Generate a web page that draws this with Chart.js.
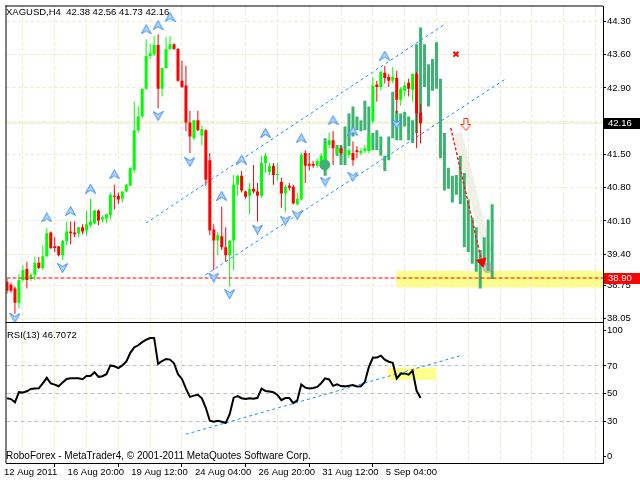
<!DOCTYPE html>
<html><head><meta charset="utf-8">
<script src="https://cdn.jsdelivr.net/npm/chart.js@4.4.0/dist/chart.umd.min.js"></script>
<style>html,body{margin:0;padding:0;background:#fff;}canvas{display:block;}</style>
</head><body>
<canvas id="c" width="640" height="480"></canvas>
<script>
const FONT = '"Liberation Sans", Arial, sans-serif';
const FS = 9.5;

// ---------- data ----------
const symbol = 'XAGUSD,H4';
const xTickLabels = ['12 Aug 2011','16 Aug 20:00','19 Aug 12:00','24 Aug 04:00','26 Aug 20:00','31 Aug 12:00','5 Sep 04:00'];
const xTickBars = [0,16,32,48,64,80,96];
const yTicks = [38.05,38.75,39.40,40.10,40.80,41.50,42.20,42.90,43.60,44.30];

const open = [38.82,38.76,38.68,38.38,38.86,39.09,38.88,38.97,39.22,39.11,
39.36,39.86,39.57,39.57,39.38,39.68,39.88,39.86,39.84,39.97,
39.90,40.01,40.05,40.32,40.13,40.15,40.22,40.63,40.63,40.57,
40.72,40.84,41.18,42.01,42.30,42.88,43.57,43.61,43.80,42.88,
43.32,43.72,43.82,43.72,43.05,42.95,42.17,41.84,42.22,41.90,
42.01,41.38,39.92,39.69,39.78,39.55,39.38,39.69,40.86,41.05,
40.72,40.63,40.78,40.72,40.63,41.32,41.13,41.26,41.07,40.92,
40.68,40.84,40.82,40.45,40.55,41.53,41.30,41.30,41.26,41.32,
41.30,41.70,41.80,41.53,41.63,41.53,41.49,41.53,41.59,41.53,
41.57,41.57,42.20,42.97,42.92,43.22,43.13,43.05,43.11,42.65,
42.84,43.01,42.86,43.20,42.38];
const high = [38.88,38.80,38.72,38.99,39.17,39.24,39.01,39.34,39.34,39.59,
39.95,39.88,39.76,39.57,39.70,40.09,40.09,40.09,39.97,40.03,
40.32,40.57,40.34,40.34,40.22,40.26,40.70,40.86,40.70,40.72,
40.88,41.22,42.61,42.51,42.88,43.92,43.82,43.99,44.03,43.32,
43.97,43.99,43.84,43.74,43.47,43.36,42.42,42.22,42.42,42.11,
42.03,41.53,40.03,39.88,40.40,39.97,39.69,41.07,41.07,41.15,
40.74,40.90,41.28,40.90,41.47,41.53,41.32,41.32,41.32,41.01,
40.86,40.90,40.86,40.70,41.53,41.59,41.53,41.36,41.42,41.53,
41.74,41.95,41.99,41.70,41.67,41.61,41.63,41.78,41.67,41.63,
41.70,41.95,43.13,43.05,43.26,43.36,43.20,43.34,43.26,42.92,
43.03,43.09,43.20,43.24,42.56];
const low = [38.57,38.59,38.15,38.26,38.82,38.68,38.84,38.86,39.09,39.07,
39.34,39.51,39.45,39.36,39.28,39.59,39.61,39.76,39.76,39.82,
39.80,39.97,40.03,40.01,40.07,40.05,40.13,40.34,40.45,40.49,
40.70,40.84,41.11,41.95,42.26,42.86,43.51,43.57,42.47,42.72,
43.30,43.70,43.70,43.03,42.90,41.99,41.53,41.80,41.99,41.70,
40.84,39.80,39.07,39.38,39.49,39.24,38.72,39.07,40.63,40.70,
40.57,40.24,40.68,40.09,40.59,41.11,41.07,40.86,40.95,40.38,
40.28,40.74,40.45,40.42,40.53,40.90,41.17,41.22,41.22,41.28,
41.22,41.63,41.28,41.47,41.49,41.49,41.42,41.26,41.42,41.49,
41.53,41.53,42.15,42.61,42.84,42.99,42.92,42.99,42.36,42.53,
42.72,42.72,42.61,41.63,41.73];
const close = [38.63,38.63,38.38,38.86,39.07,38.86,38.97,39.22,39.11,39.36,
39.84,39.53,39.53,39.38,39.68,39.88,39.84,39.82,39.97,39.88,
40.03,40.09,40.32,40.11,40.18,40.24,40.65,40.61,40.55,40.72,
40.86,41.22,42.01,42.30,42.88,43.57,43.63,43.80,42.88,43.32,
43.72,43.82,43.72,43.05,42.92,42.17,41.88,42.22,42.01,42.03,
40.97,39.90,39.69,39.80,39.55,39.38,39.69,40.86,41.05,40.74,
40.61,40.78,40.72,40.63,41.32,41.47,41.26,41.07,41.09,40.68,
40.82,40.80,40.47,40.57,41.49,41.26,41.26,41.26,41.36,41.47,
41.70,41.80,41.63,41.63,41.53,41.55,41.59,41.38,41.55,41.57,
41.63,41.90,42.95,42.92,43.24,43.11,43.05,43.13,42.65,42.88,
42.95,42.88,43.20,42.36,42.16];

const rsi = [46.6,46,43.6,51,50.8,51.6,53.3,53.7,53.8,57.4,
61.4,57.4,56.5,55.3,58.1,60.6,61.1,61,61,60.4,
62.7,62.8,65.5,62.1,62.6,64,70.4,69.8,68.5,70.4,
73.2,79.5,83.5,85,87.3,89,90.3,90.3,71.5,73.6,
75.1,74.6,72,64,60.6,53.5,47.6,48.5,49.1,46.5,
39.7,30.3,29.6,30.2,29.5,28.6,35,47,48.1,46.6,
46,46.6,46.3,46.9,53.5,51.9,51.5,51,49,45.2,
46.7,46.7,43,45,56.5,54.3,53.7,54,54.8,57.5,
61,60.2,55.6,56.7,55.4,55.2,55.6,56.1,55.1,55.3,
58.5,69.3,75.9,76.1,77.5,74.5,73.1,72.3,60.9,64.3,
64.6,63.7,66.5,52,46.7072];

// projected (overlay) bars
const ovBars = [80,83,84,85,86,87,88,89,90,91,92,93,94,95,96,97,98,99,100,101,102,103,104,105,106,107,108,109,110,111,112,113,114,115,116,117,118,119,120,121,122];
const ovHigh = [41.84,41.70,41.70,42.09,42.36,42.51,42.30,42.22,42.63,42.51,41.95,42.01,41.88,41.47,41.88,42.82,42.42,42.36,42.40,42.30,42.22,43.82,44.17,43.82,43.40,43.51,43.86,43.09,41.95,41.22,41.05,41.07,41.47,41.11,40.55,40.17,39.97,39.49,39.76,40.13,40.45];
const ovLow  = [41.05,41.47,41.28,41.28,41.67,41.88,42.01,41.99,42.01,41.59,41.59,41.59,41.47,41.15,41.38,41.84,41.80,41.80,42.09,41.80,41.74,41.95,42.15,42.92,42.51,42.84,42.88,41.42,40.74,40.78,40.49,40.65,40.45,39.55,39.45,39.20,39.03,38.68,39.17,39.05,38.88];

// fractals
const fracUpBars = [10,16,21,27,35,38,41,54,59,65,74,82,87,95];
const fracUpVals = [40.175,40.31,40.78,41.08,44.13,44.22,44.39,40.63,41.39,41.95,41.84,42.22,41.99,43.58];
const fracDnBars = [2,14,38,46,52,56,63,70,73,80,87,98];
const fracDnVals = [38.06,39.11,42.31,41.34,38.91,38.56,39.92,40.11,40.22,40.93,41.03,42.14];

// drawn objects
const chanUpBars = [34.95,110.4], chanUpVals = [40.056,44.258];
const chanLoBars = [49.9,125.4],  chanLoVals = [38.966,43.09];
const bidPrice = 42.16;
const supportPrice = 38.90;
const zoneBars = [97.9,149.875], zonePrices = [38.70,39.05];
const rsiZoneBars = [95.8,107.9], rsiZoneVals = [59.95,68.8];
const rsiTrendBars = [44.95,114.55], rsiTrendVals = [20.45,77.9];
const arrowBars = [111.6,119.4], arrowVals = [42.06,39.24];
const shadowBars = [113.4,120.9], shadowVals = [41.95,39.45];
const crossMark = {bar:112.9, val:43.61};
const downMark = {bar:115.4, val:42.13};
const ghostBars = [79.9,120.9], ghostVals = [41.28,39.11];

const priceMin = 37.9667, priceMax = 44.6125;
const rsiMin = -0.37, rsiMax = 101.6;
const rsiTickPos = [4.15,30,50,70,95.85];
const rsiTickText = ['0','30','50','70','100'];
const rsiLevels = [30,50,70];
const xMin = -0.125, xMax = 149.875;
const gridBars = Array.from({length:19},(_,k)=>k*8);

// ---------- glyphs ----------
function fractalGlyph(){
  const c=document.createElement('canvas');c.width=11;c.height=10;
  const g=c.getContext('2d');
  g.beginPath();g.moveTo(5.5,0.5);g.lineTo(10.5,9.5);g.lineTo(5.5,6.5);g.lineTo(0.5,9.5);g.closePath();
  g.fillStyle='#B4D6FA';g.fill();g.strokeStyle='#3A8DEB';g.lineWidth=1;g.stroke();
  return c;
}
function hollowArrow(){
  const c=document.createElement('canvas');c.width=11;c.height=13;
  const g=c.getContext('2d');
  g.beginPath();g.moveTo(3.5,0.5);g.lineTo(7.5,0.5);g.lineTo(7.5,6.5);g.lineTo(10.5,6.5);
  g.lineTo(5.5,12.5);g.lineTo(0.5,6.5);g.lineTo(3.5,6.5);g.closePath();
  g.fillStyle='#fff';g.fill();g.strokeStyle='#FF3010';g.lineWidth=1;g.stroke();
  return c;
}
const fracImg = fractalGlyph();
const arrImg = hollowArrow();

// ---------- datasets ----------
const bars = open.map((_,i)=>i);
const up = i => close[i] >= open[i];
const BULL='#00FF00', BEAR='#FF0000';
const pt = (xs,ys)=>xs.map((v,k)=>({x:v,y:ys[k]}));

const datasets = [
  {type:'line',order:100,yAxisID:'y',data:pt([xMin,xMax],[bidPrice,bidPrice]),borderColor:'#E8E8B8',borderWidth:1,pointRadius:0},
  {type:'line',order:97,yAxisID:'y',data:pt(shadowBars,shadowVals),borderColor:'rgba(228,225,205,0.5)',borderWidth:8,pointRadius:0},
  {type:'bar',order:95,yAxisID:'y',grouped:false,barThickness:3,inflateAmount:0,minBarLength:1,
   data:ovBars.map((b,k)=>({x:b,y:[ovLow[k],ovHigh[k]]})),backgroundColor:'#3CB371'},
  {type:'line',order:90,yAxisID:'y',data:pt(chanUpBars,chanUpVals),borderColor:'#1E90FF',borderWidth:1,borderDash:[3,3],pointRadius:0},
  {type:'line',order:90,yAxisID:'y',data:pt(chanLoBars,chanLoVals),borderColor:'#1E90FF',borderWidth:1,borderDash:[3,3],pointRadius:0},
  {type:'bar',order:80,yAxisID:'y',grouped:false,barThickness:1,inflateAmount:0,minBarLength:1,
   data:bars.map(i=>({x:i,y:[low[i],high[i]]})),backgroundColor:bars.map(i=>up(i)?BULL:BEAR)},
  {type:'bar',order:79,yAxisID:'y',grouped:false,barThickness:3,inflateAmount:0,minBarLength:1,
   data:bars.map(i=>({x:i,y:[open[i],close[i]]})),backgroundColor:bars.map(i=>up(i)?BULL:BEAR)},
  {type:'line',order:70,yAxisID:'y',data:pt([xMin,xMax],[supportPrice,supportPrice]),borderColor:'#FF0000',borderWidth:1,borderDash:[4,2],pointRadius:0},
  {type:'scatter',order:60,yAxisID:'y',data:pt(fracUpBars,fracUpVals),pointStyle:fracImg,pointRadius:5},
  {type:'scatter',order:60,yAxisID:'y',data:pt(fracDnBars,fracDnVals),pointStyle:fracImg,pointRadius:5,pointRotation:180},
  {type:'scatter',order:58,yAxisID:'y',data:pt([ghostBars[0]],[ghostVals[0]]),pointStyle:'circle',pointRadius:5,backgroundColor:'#3CB371',borderColor:'#3CB371'},
  {type:'scatter',order:58,yAxisID:'y',data:pt([ghostBars[1]],[ghostVals[1]]),pointStyle:'circle',pointRadius:5,backgroundColor:'rgba(130,160,140,0.55)',borderColor:'rgba(130,160,140,0.3)'},
  {type:'line',order:50,yAxisID:'y',data:pt(arrowBars,arrowVals),borderColor:'#FF1A1A',borderWidth:1.5,borderDash:[3,2],pointRadius:0},
  {type:'scatter',order:49,yAxisID:'y',data:pt([arrowBars[1]],[arrowVals[1]]),pointStyle:'triangle',pointRadius:5.5,pointRotation:167,backgroundColor:'#FF0000',borderColor:'#FF0000'},
  {type:'scatter',order:40,yAxisID:'y',data:[{x:crossMark.bar,y:crossMark.val}],pointStyle:'crossRot',pointRadius:3.5,borderWidth:2,borderColor:'#FF0000'},
  {type:'scatter',order:40,yAxisID:'y',data:[{x:downMark.bar,y:downMark.val}],pointStyle:arrImg,pointRadius:5},
  {type:'line',order:35,yAxisID:'y2',data:pt(rsiTrendBars,rsiTrendVals),borderColor:'#1E90FF',borderWidth:1,borderDash:[3,3],pointRadius:0},
  {type:'line',order:30,yAxisID:'y2',data:rsi.map((v,i)=>({x:i,y:v})),borderColor:'#000',borderWidth:2,pointRadius:0,tension:0}
];

// ---------- plugin ----------
const mt = {
  id:'mt',
  beforeDraw(chart){
    const {ctx,chartArea:a,scales:{x,y,y2}} = chart;
    ctx.save();
    ctx.fillStyle='#fff';ctx.fillRect(0,0,chart.width,chart.height);
    ctx.fillStyle='#FFFF8C';
    let x0=x.getPixelForValue(zoneBars[0]), x1=Math.min(a.right,x.getPixelForValue(zoneBars[1]));
    let y0=y.getPixelForValue(zonePrices[1]), y1=y.getPixelForValue(zonePrices[0]);
    ctx.fillRect(x0,y0,x1-x0,y1-y0);
    x0=x.getPixelForValue(rsiZoneBars[0]); x1=x.getPixelForValue(rsiZoneBars[1]);
    y0=y2.getPixelForValue(rsiZoneVals[1]); y1=y2.getPixelForValue(rsiZoneVals[0]);
    ctx.fillRect(x0,y0,x1-x0,y1-y0);
    ctx.restore();
  },
  afterDraw(chart){
    const {ctx,chartArea:a,scales:{y,y2}} = chart;
    ctx.save();
    ctx.fillStyle='#000';
    ctx.fillRect(a.left-1,a.top-1,a.right-a.left+1,1);
    ctx.fillRect(a.left-1,a.top-1,1,a.bottom-a.top+1);
    ctx.fillRect(a.left-1,Math.round(y.bottom),a.right-a.left+1,1);
    ctx.font=FS+'px '+FONT;
    ctx.textBaseline='middle';
    let py=y.getPixelForValue(bidPrice);
    ctx.fillStyle='#000';ctx.fillRect(a.right+1,Math.round(py)-5,37,11);
    ctx.fillStyle='#fff';ctx.fillText(bidPrice.toFixed(2),a.right+5,py+0.5);
    py=y.getPixelForValue(supportPrice);
    ctx.fillStyle='#FF0000';ctx.fillRect(a.right+1,Math.round(py)-5,37,11);
    ctx.fillStyle='#fff';ctx.fillText(supportPrice.toFixed(2),a.right+5,py+0.5);
    const L=open.length-1;
    ctx.fillStyle='#000';ctx.textBaseline='alphabetic';
    ctx.fillText(symbol+'  '+open[L].toFixed(2)+' '+high[L].toFixed(2)+' '+low[L].toFixed(2)+' '+close[L].toFixed(2),6,15);
    ctx.fillText('RSI(13) '+rsi[L],7,y2.top+16);
    ctx.font='10px '+FONT;
    ctx.fillText('RoboForex - MetaTrader4, \u00A9 2001-2011 MetaQuotes Software Corp.',6,y2.bottom-4);
    ctx.restore();
  }
};

const font = {family:FONT,size:FS};
new Chart(document.getElementById('c'),{
  type:'line',
  data:{datasets},
  plugins:[mt],
  options:{
    responsive:false,animation:false,events:[],
    layout:{padding:{left:3,top:2,right:0,bottom:0}},
    plugins:{legend:{display:false},tooltip:{enabled:false}},
    scales:{
      x:{type:'linear',min:xMin,max:xMax,offset:false,position:'bottom',
        afterBuildTicks:s=>{s.ticks=gridBars.map(v=>({value:v}));},
        afterFit:s=>{s.height=17;s.paddingLeft=0;s.paddingRight=0;},
        ticks:{autoSkip:false,maxRotation:0,minRotation:0,align:'start',padding:0,labelOffset:-3,color:'#000',font,
          callback:v=>{const k=xTickBars.indexOf(v);return k>=0?xTickLabels[k]:'';}},
        grid:{color:'#EAEAC6',lineWidth:1,tickLength:4,
          tickColor:c=>(c.tick&&xTickBars.includes(c.tick.value))?'#000':'rgba(0,0,0,0)'},
        border:{display:true,color:'#000',dash:[3,3]}},
      y:{type:'linear',position:'right',stack:'panes',stackWeight:319,min:priceMin,max:priceMax,
        afterBuildTicks:s=>{s.ticks=yTicks.map(v=>({value:v}));},
        afterFit:s=>{s.width=37;s.paddingTop=0;s.paddingBottom=0;},
        ticks:{autoSkip:false,padding:1,color:'#000',font,callback:v=>v.toFixed(2)},
        grid:{color:'#EAEAC6',tickColor:'#000',tickLength:3},
        border:{display:true,color:'#000',dash:[3,3]}},
      y2:{type:'linear',position:'right',stack:'panes',stackWeight:142,min:rsiMin,max:rsiMax,
        afterBuildTicks:s=>{s.ticks=rsiTickPos.map(v=>({value:v}));},
        afterFit:s=>{s.width=37;s.paddingTop=0;s.paddingBottom=0;},
        ticks:{autoSkip:false,padding:1,color:'#000',font,callback:v=>rsiTickText[rsiTickPos.indexOf(v)]},
        grid:{color:c=>(c.tick&&rsiLevels.includes(c.tick.value))?'#C0C0C0':'rgba(0,0,0,0)',tickColor:'#000',tickLength:3},
        border:{display:true,color:'#000',dash:[4,3]}}
    }
  }
});
</script>
</body></html>
